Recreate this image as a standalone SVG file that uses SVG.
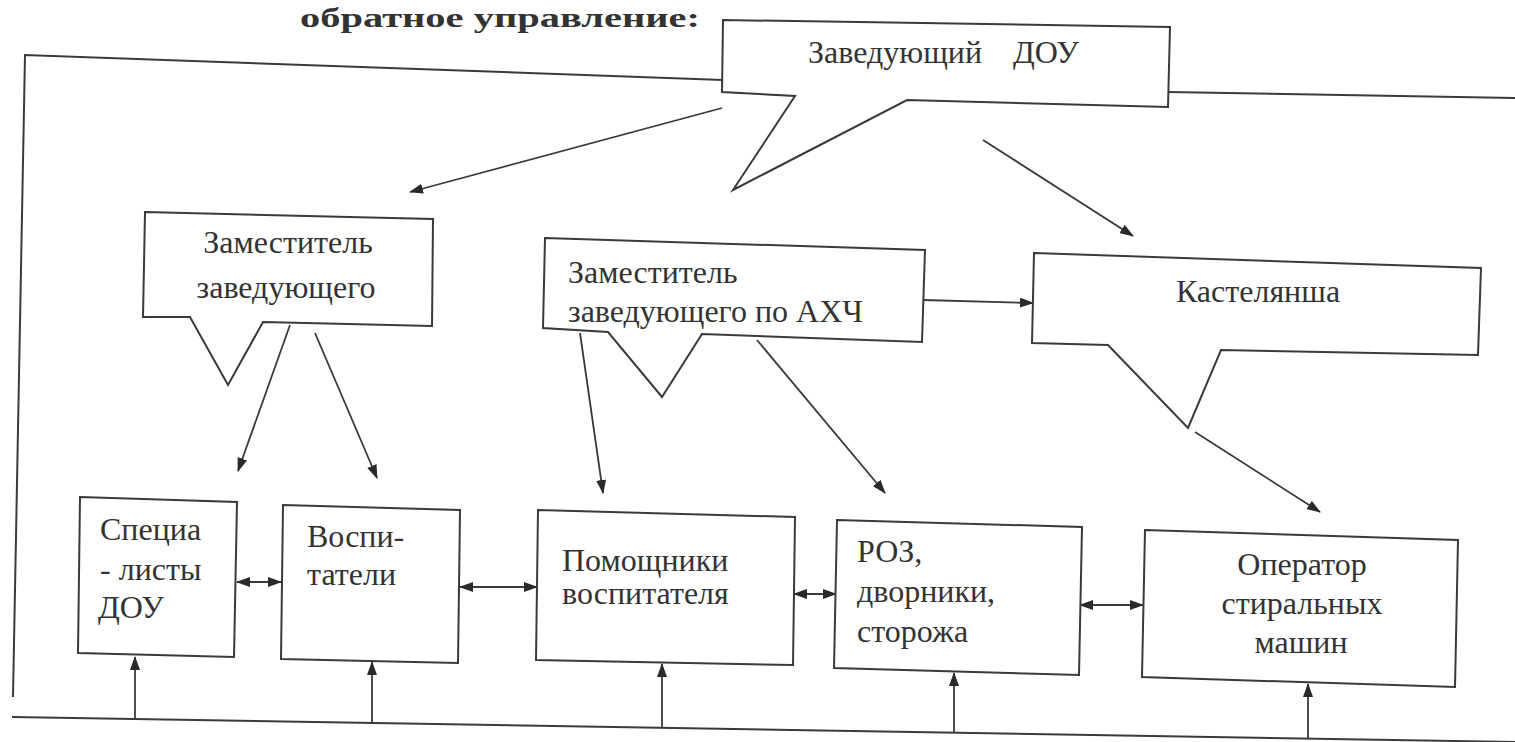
<svg xmlns="http://www.w3.org/2000/svg" width="1515" height="742" viewBox="0 0 1515 742">
<style>
.shape{fill:#fff;stroke:#3a3a3a;stroke-width:2;stroke-linejoin:miter}
.ln{fill:none;stroke:#3a3a3a;stroke-width:2}
.ar{fill:none;stroke:#3a3a3a;stroke-width:1.8;marker-end:url(#ah)}
.dbl{fill:none;stroke:#3a3a3a;stroke-width:1.8;marker-start:url(#ah);marker-end:url(#ah)}
.t{font-family:"Liberation Serif","Times New Roman",serif;font-size:32px;fill:#333}
.c{text-anchor:middle}
.hdr{font-family:"Liberation Serif","Times New Roman",serif;font-size:28px;font-weight:bold;fill:#333}
</style>
<defs>
<marker id="ah" viewBox="0 0 14 10" refX="13" refY="5" markerWidth="14" markerHeight="10" markerUnits="userSpaceOnUse" orient="auto-start-reverse">
<path d="M0,0 L14,5 L0,10 z" fill="#2a2a2a"/>
</marker>
</defs>
<rect width="1515" height="742" fill="#fff"/>
<text class="hdr" x="300" y="27" textLength="400" lengthAdjust="spacingAndGlyphs">обратное управление:</text>

<g id="connectors">
<polyline class="ln" points="723,80 25,55 13,697"/>
<line class="ln" x1="1168" y1="92" x2="1515" y2="98"/>
<line class="ln" x1="12" y1="717" x2="1515" y2="742"/>
<line class="ar" x1="722" y1="108" x2="410" y2="192"/>
<line class="ar" x1="983" y1="140" x2="1133" y2="236"/>
<line class="ar" x1="923" y1="300" x2="1033" y2="303"/>
<line class="ar" x1="290" y1="325" x2="238" y2="471"/>
<line class="ar" x1="315" y1="333" x2="377" y2="478"/>
<line class="ar" x1="580" y1="333" x2="603" y2="493"/>
<line class="ar" x1="757" y1="340" x2="885" y2="493"/>
<line class="ar" x1="1195" y1="432" x2="1320" y2="512"/>
<line class="dbl" x1="237" y1="582" x2="281" y2="582"/>
<line class="dbl" x1="460" y1="587" x2="537" y2="587"/>
<line class="dbl" x1="794" y1="594" x2="836" y2="594"/>
<line class="dbl" x1="1080" y1="605" x2="1143" y2="605"/>
<line class="ar" x1="135" y1="719" x2="135" y2="657"/>
<line class="ar" x1="372" y1="723" x2="372" y2="662"/>
<line class="ar" x1="662" y1="728" x2="662" y2="664"/>
<line class="ar" x1="954" y1="733" x2="954" y2="673"/>
<line class="ar" x1="1308" y1="738" x2="1308" y2="684"/>
</g>

<g id="zaveduyushchiy">
<polygon class="shape" points="723,20 1170,27 1168,107 907,100 733,190 795,96 722,92"/>
<text class="t" x="808" y="63">Заведующий</text>
<text class="t" x="1013" y="63">ДОУ</text>
</g>

<g id="zamestitel">
<polygon class="shape" points="145,212 433,219 432,326 263,322 228,385 190,317 143,317"/>
<text class="t c" x="288" y="253">Заместитель</text>
<text class="t c" x="286" y="298">заведующего</text>
</g>

<g id="zamestitel-ahch">
<polygon class="shape" points="545,238 925,250 922,342 702,334 662,397 608,332 543,328"/>
<text class="t" x="568" y="283">Заместитель</text>
<text class="t" x="568" y="322">заведующего по АХЧ</text>
</g>

<g id="kastelyansha">
<polygon class="shape" points="1034,253 1481,268 1478,355 1221,350 1188,428 1108,345 1032,343"/>
<text class="t c" x="1258" y="302">Кастелянша</text>
</g>

<g id="spetsialisty">
<polygon class="shape" points="80,497 237,502 234,657 78,653"/>
<text class="t" x="100" y="540">Специа</text>
<text class="t" x="100" y="580">- листы</text>
<text class="t" x="98" y="618">ДОУ</text>
</g>

<g id="vospitateli">
<polygon class="shape" points="283,505 460,510 458,663 281,659"/>
<text class="t" x="307" y="547">Воспи-</text>
<text class="t" x="307" y="585">татели</text>
</g>

<g id="pomoshchniki">
<polygon class="shape" points="538,510 795,517 793,665 536,660"/>
<text class="t" x="562" y="571">Помощники</text>
<text class="t" x="562" y="604">воспитателя</text>
</g>

<g id="roz">
<polygon class="shape" points="837,520 1082,527 1079,675 834,668"/>
<text class="t" x="857" y="562">РОЗ,</text>
<text class="t" x="857" y="602">дворники,</text>
<text class="t" x="857" y="642">сторожа</text>
</g>

<g id="operator">
<polygon class="shape" points="1145,530 1458,540 1455,687 1142,677"/>
<text class="t c" x="1302" y="575">Оператор</text>
<text class="t c" x="1302" y="614">стиральных</text>
<text class="t c" x="1301" y="653">машин</text>
</g>
</svg>
